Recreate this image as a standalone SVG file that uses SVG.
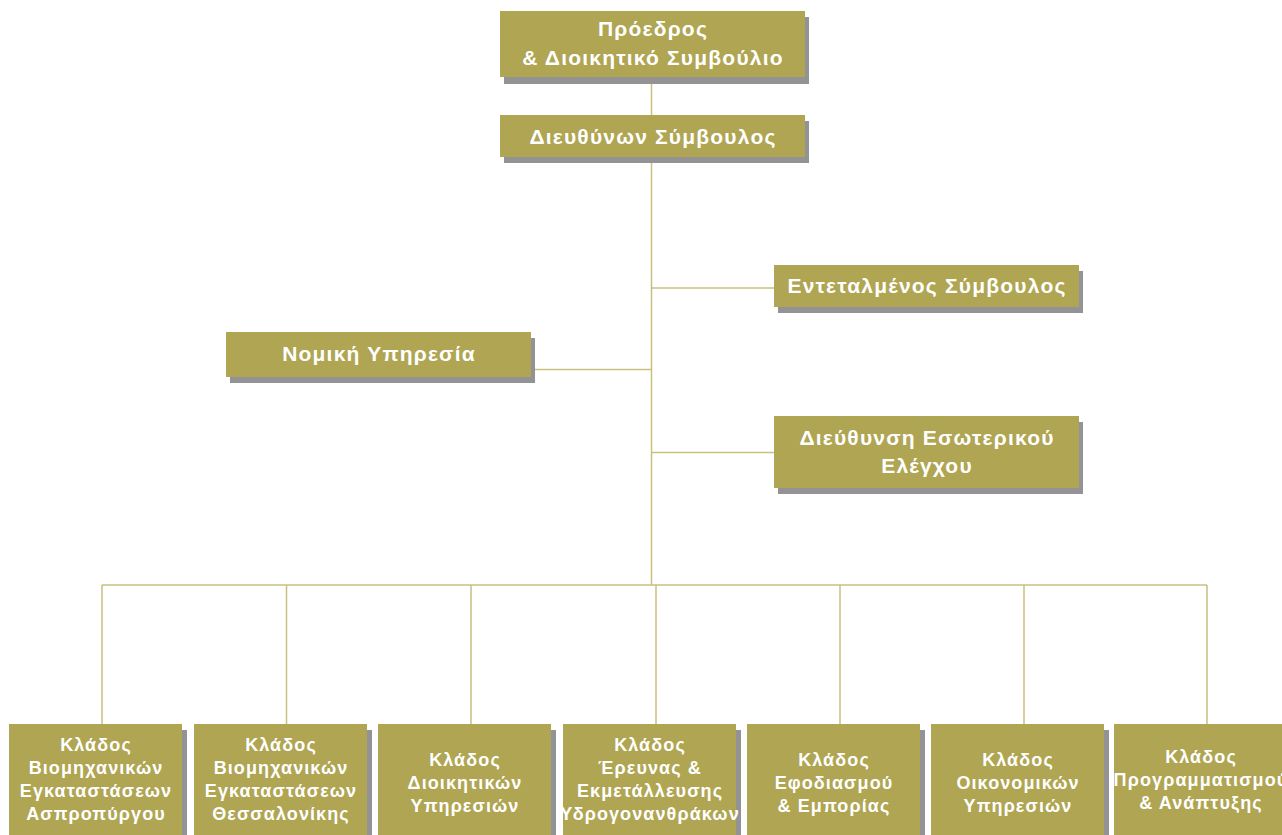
<svg xmlns="http://www.w3.org/2000/svg" width="1282" height="835" viewBox="0 0 1282 835">
<style>
.box{fill:#afa552}
.sh{fill:#939396}
.t{font-family:"Liberation Sans",Arial,sans-serif;font-weight:bold;fill:#ffffff;text-anchor:middle}
.big{font-size:21px;letter-spacing:1.2px}
.small{font-size:18px;letter-spacing:1.1px}
.ln{stroke:#c9bf7f;stroke-width:1.5;fill:none}
</style>
<rect width="1282" height="835" fill="#ffffff"/>
<g id="connectors">
<path class="ln" d="M651.5 77 V585"/>
<path class="ln" d="M651.5 288 H774"/>
<path class="ln" d="M531 369.5 H651.5"/>
<path class="ln" d="M651.5 452.5 H774"/>
<path class="ln" d="M102 585 H1207"/>
<path class="ln" d="M102 585 V724 M286.5 585 V724 M471 585 V724 M656 585 V724 M840 585 V724 M1024 585 V724 M1207 585 V724"/>
</g>
<g id="node-chair">
<rect class="sh" x="504" y="17" width="305" height="67"/>
<rect class="box" x="500" y="11" width="305" height="66"/>
<text class="t big" x="653" y="36">Πρόεδρος</text>
<text class="t big" x="653" y="65">&amp; Διοικητικό Συμβούλιο</text>
</g>
<g id="node-ceo">
<rect class="sh" x="504" y="121" width="305" height="42"/>
<rect class="box" x="500" y="115" width="305" height="42"/>
<text class="t big" x="653" y="144">Διευθύνων Σύμβουλος</text>
</g>
<g id="node-deputy">
<rect class="sh" x="778" y="271" width="305" height="42"/>
<rect class="box" x="774" y="265" width="305" height="42"/>
<text class="t big" x="927" y="293">Εντεταλμένος Σύμβουλος</text>
</g>
<g id="node-legal">
<rect class="sh" x="230" y="338" width="305" height="45"/>
<rect class="box" x="226" y="332" width="305" height="45"/>
<text class="t big" x="379" y="361">Νομική Υπηρεσία</text>
</g>
<g id="node-audit">
<rect class="sh" x="778" y="422" width="305" height="72"/>
<rect class="box" x="774" y="416" width="305" height="72"/>
<text class="t big" x="927" y="445">Διεύθυνση Εσωτερικού</text>
<text class="t big" x="927" y="473">Ελέγχου</text>
</g>
<g id="node-b1">
<rect class="sh" x="13" y="730" width="174" height="115"/>
<rect class="box" x="9" y="724" width="173" height="115"/>
<text class="t small" x="96" y="751">Κλάδος</text>
<text class="t small" x="96" y="774">Βιομηχανικών</text>
<text class="t small" x="96" y="797">Εγκαταστάσεων</text>
<text class="t small" x="96" y="820">Ασπροπύργου</text>
</g>
<g id="node-b2">
<rect class="sh" x="198" y="730" width="174" height="115"/>
<rect class="box" x="194" y="724" width="173" height="115"/>
<text class="t small" x="281" y="751">Κλάδος</text>
<text class="t small" x="281" y="774">Βιομηχανικών</text>
<text class="t small" x="281" y="797">Εγκαταστάσεων</text>
<text class="t small" x="281" y="820">Θεσσαλονίκης</text>
</g>
<g id="node-b3">
<rect class="sh" x="382" y="730" width="174" height="115"/>
<rect class="box" x="378" y="724" width="173" height="115"/>
<text class="t small" x="465" y="766">Κλάδος</text>
<text class="t small" x="465" y="789">Διοικητικών</text>
<text class="t small" x="465" y="812">Υπηρεσιών</text>
</g>
<g id="node-b4">
<rect class="sh" x="567" y="730" width="174" height="115"/>
<rect class="box" x="563" y="724" width="173" height="115"/>
<text class="t small" x="650" y="751">Κλάδος</text>
<text class="t small" x="650" y="774">Έρευνας &amp;</text>
<text class="t small" x="650" y="797">Εκμετάλλευσης</text>
<text class="t small" x="650" y="820">Υδρογονανθράκων</text>
</g>
<g id="node-b5">
<rect class="sh" x="751" y="730" width="174" height="115"/>
<rect class="box" x="747" y="724" width="173" height="115"/>
<text class="t small" x="834" y="766">Κλάδος</text>
<text class="t small" x="834" y="789">Εφοδιασμού</text>
<text class="t small" x="834" y="812">&amp; Εμπορίας</text>
</g>
<g id="node-b6">
<rect class="sh" x="935" y="730" width="174" height="115"/>
<rect class="box" x="931" y="724" width="173" height="115"/>
<text class="t small" x="1018" y="766">Κλάδος</text>
<text class="t small" x="1018" y="789">Οικονομικών</text>
<text class="t small" x="1018" y="812">Υπηρεσιών</text>
</g>
<g id="node-b7">
<rect class="sh" x="1118" y="730" width="174" height="115"/>
<rect class="box" x="1114" y="724" width="173" height="115"/>
<text class="t small" x="1201" y="763">Κλάδος</text>
<text class="t small" x="1201" y="786">Προγραμματισμού</text>
<text class="t small" x="1201" y="809">&amp; Ανάπτυξης</text>
</g>
</svg>
